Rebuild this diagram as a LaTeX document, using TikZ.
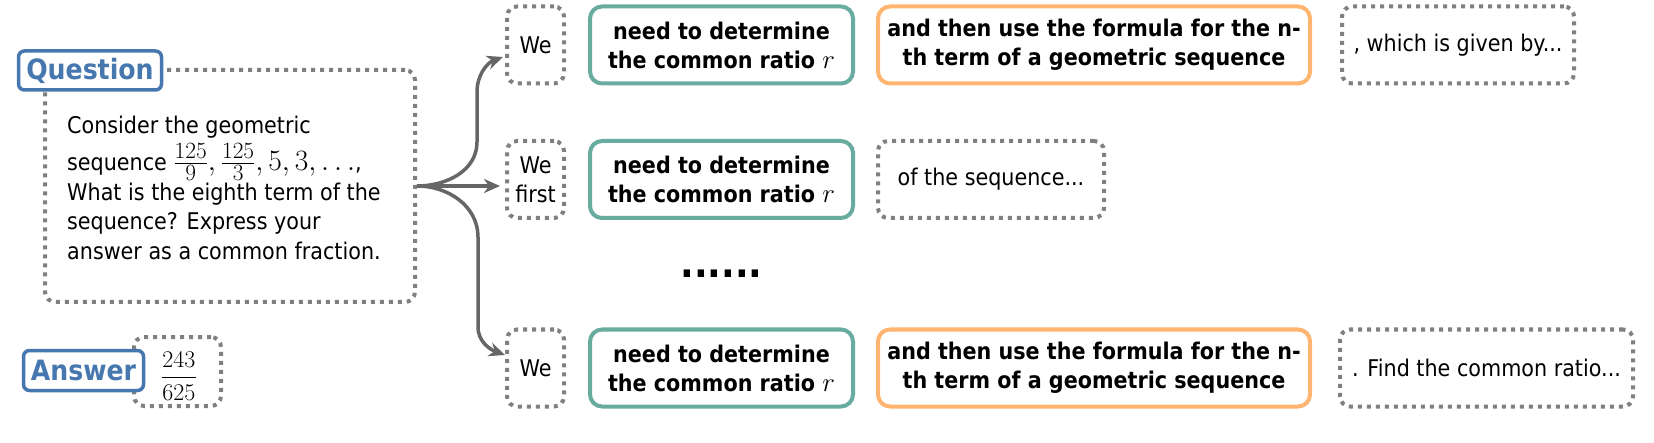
\RequirePackage{fix-cm}
\documentclass[tikz,border=0pt]{standalone}
\usepackage{amsmath}
\usepackage{fontspec}
\setmainfont{DejaVu Sans}[FakeStretch=0.9]
\DeclareMathSizes{29.5}{29.5}{23.3}{18}
\usetikzlibrary{arrows.meta,calc}
\definecolor{qblue}{HTML}{4678AF}
\definecolor{tealc}{HTML}{68AB9F}
\definecolor{orangec}{HTML}{FFB570}
\definecolor{dotgray}{HTML}{808080}
\definecolor{arrgray}{HTML}{666666}
\begin{document}
\begin{tikzpicture}[x=1pt,y=1pt,
  base/.style={inner sep=0pt, align=center, font=\fontsize{23}{29}\selectfont},
  dotbox/.style={base, draw=dotgray, line width=4pt, dash pattern=on 4pt off 5pt, rounded corners=10pt, minimum height=77pt},
  tealbox/.style={base, draw=tealc, line width=4pt, rounded corners=12pt, minimum height=77pt, minimum width=263pt, font=\fontsize{23}{29}\selectfont\bfseries},
  orangebox/.style={base, draw=orangec, line width=4pt, rounded corners=12pt, minimum height=77pt, minimum width=432pt, font=\fontsize{23}{29}\selectfont\bfseries},
  label/.style={inner sep=0pt, draw=qblue, text=qblue, line width=3.5pt, rounded corners=6pt, fill=white, font=\fontsize{28}{30}\selectfont\bfseries},
  arr/.style={draw=arrgray, line width=3.5pt, -{Stealth[length=16pt,width=14pt,inset=5pt]}},
  dotsfont/.style={inner sep=0pt, font=\fontsize{40}{40}\selectfont\bfseries}
]
\useasboundingbox (0,0) rectangle (1654,442);
% question
\node[dotbox, minimum width=370pt, minimum height=232pt] (qbox) at (230,256) {};
\node[label, minimum width=143pt, minimum height=39pt] (qlab) at (90,371.5) {Question};
\node[anchor=north west, inner sep=0pt, align=left, font=\fontsize{23}{29.5}\selectfont] (qtext) at (67,326.5)
 {Consider the geometric\\[5pt]
  sequence {\fontsize{29.5}{29.5}\selectfont$\frac{125}{9}, \frac{125}{3}, 5, 3, \ldots$},\\
  What is the eighth term of the\\
  sequence? Express your\\
  answer as a common fraction.};
% answer
\node[dotbox, minimum width=87pt, minimum height=69pt] (abox) at (177.5,70.5) {};
\node[label, minimum width=120pt, minimum height=40pt] (alab) at (83.5,71.5) {Answer};
\node[inner sep=0pt, font=\fontsize{24}{24}\selectfont] (afrac) at (179,66) {$\dfrac{243}{625}$};
% row 1
\node[dotbox, minimum width=57pt] (w1) at (535.5,397) {We};
\node[tealbox] (t1) at (721.5,397) {need to determine\\the common ratio {\fontsize{27}{27}\selectfont$r$}};
\node[orangebox] (o1) at (1094,397) {and then use the formula for the n-\\th term of a geometric sequence};
\node[dotbox, minimum width=232pt] (d1) at (1458,397) {, which is given by...};
% row 2
\node[dotbox, minimum width=57pt] (w2) at (535.5,262.5) {We\\first};
\node[tealbox] (t2) at (721.5,262.5) {need to determine\\the common ratio {\fontsize{27}{27}\selectfont$r$}};
\node[dotbox, minimum width=226pt] (d2) at (991,262.5) {of the sequence...};
% dots
\node[dotsfont, anchor=base] (ell) at (721.5,164) {......};
% row 3
\node[dotbox, minimum width=57pt] (w3) at (535.5,74) {We};
\node[tealbox] (t3) at (721.5,74) {need to determine\\the common ratio {\fontsize{27}{27}\selectfont$r$}};
\node[orangebox] (o3) at (1094,74) {and then use the formula for the n-\\th term of a geometric sequence};
\node[dotbox, minimum width=293pt] (d3) at (1486.5,74) {. Find the common ratio...};
% arrows
\coordinate (e1) at ($(w1.west)+(-2,-12)$);
\coordinate (e2) at ($(qbox.east -| w2.west)+(-5,0)$);
\coordinate (e3) at ($(w3.west)+(0,13)$);
\draw[arr] (qbox.east) to[out=0,in=-90] (477,300) -- (477,350) to[out=90,in=200] (e1);
\draw[arr] (qbox.east) -- (e2);
\draw[arr] (qbox.east) to[out=0,in=90] (478,205) -- (478,115) to[out=-90,in=160] (e3);
\end{tikzpicture}
\end{document}
